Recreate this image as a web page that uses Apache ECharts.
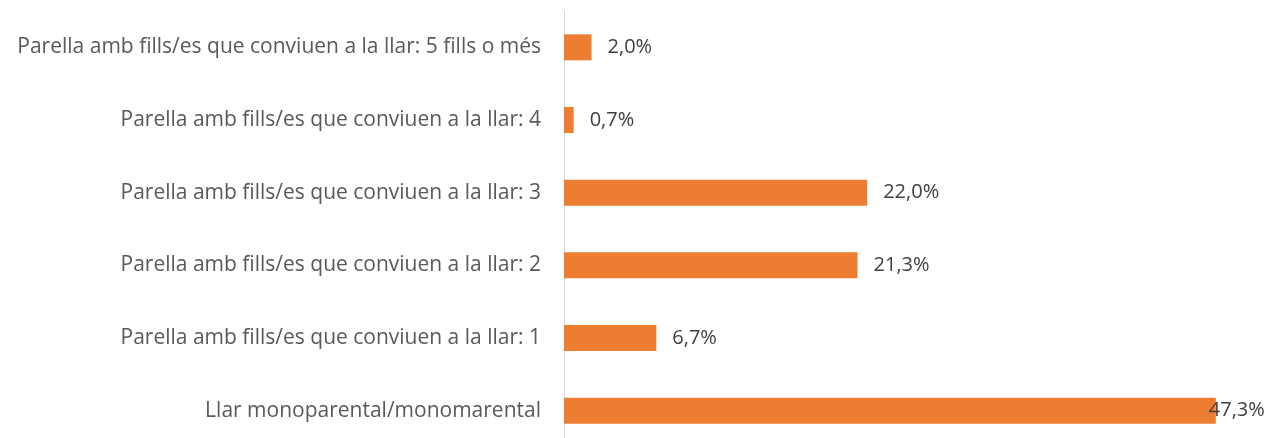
<!DOCTYPE html>
<html>
<head>
<meta charset="utf-8">
<script src="https://cdn.jsdelivr.net/npm/echarts@6/dist/echarts.min.js"></script>
<style>
html, body { margin: 0; padding: 0; background: #fff; }
#chart { width: 1270px; height: 438px; }
</style>
</head>
<body>
<div id="chart"></div>
<script>
// categories from bottom to top
var categories = [
    'Llar monoparental/monomarental',
    'Parella amb fills/es que conviuen a la llar: 1',
    'Parella amb fills/es que conviuen a la llar: 2',
    'Parella amb fills/es que conviuen a la llar: 3',
    'Parella amb fills/es que conviuen a la llar: 4',
    'Parella amb fills/es que conviuen a la llar: 5 fills o més'
];
var percentages = [47.3, 6.7, 21.3, 22.0, 0.7, 2.0];

var myChart = echarts.init(document.getElementById('chart'));

var option = {
    animation: false,
    textStyle: { fontFamily: 'Open Sans' },
    // plot area runs a little past the bottom edge of the picture
    grid: { left: 564, width: 689, top: 11, height: 436, outerBoundsMode: 'none' },
    xAxis: {
        type: 'value',
        min: 0,
        max: 50,
        show: false
    },
    yAxis: {
        type: 'category',
        data: categories,
        axisLine: { show: true, lineStyle: { color: '#d9d9d9', width: 1 } },
        axisTick: { show: false },
        axisLabel: { color: '#595959', fontSize: 21, margin: 23 }
    },
    series: [{
        type: 'bar',
        barWidth: 26,
        itemStyle: { color: '#ED7D31' },
        label: {
            show: true,
            position: 'right',
            distance: 16,
            color: '#404040',
            fontSize: 20,
            formatter: function (p) {
                return p.value.toFixed(1).replace('.', ',') + '%';
            }
        },
        // the longest bar's label is pushed back over the bar end
        data: percentages.map(function (v, i) {
            return i === 0 ? { value: v, label: { offset: [-23, 0] } } : v;
        })
    }]
};
myChart.setOption(option);
</script>
</body>
</html>
